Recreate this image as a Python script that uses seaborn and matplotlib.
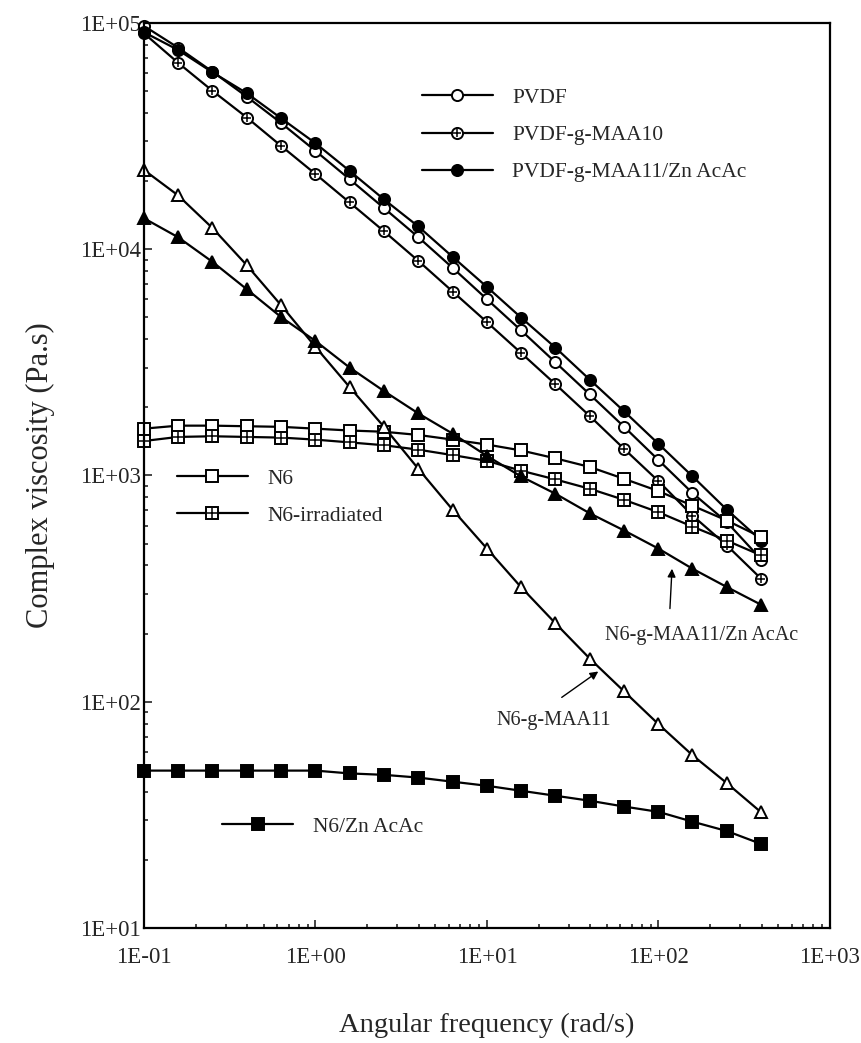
import matplotlib
matplotlib.use("Agg")
import matplotlib.pyplot as plt
import seaborn as sns
from matplotlib.legend_handler import HandlerTuple
from matplotlib.ticker import NullFormatter

# angular frequency (rad/s), 5 points per decade
freq = [0.1, 0.158, 0.251, 0.398, 0.631, 1.0, 1.58, 2.51, 3.98, 6.31,
        10.0, 15.8, 25.1, 39.8, 63.1, 100.0, 158.0, 251.0, 398.0]

# complex viscosity (Pa.s)
pvdf = [97000, 77800, 60900, 47200, 36100, 27200, 20400, 15200, 11300, 8270,
        6010, 4380, 3160, 2280, 1640, 1170, 836, 621, 425]
pvdf_maa10 = [90000, 66700, 50100, 38200, 28600, 21500, 16100, 12000, 8880, 6500,
              4760, 3480, 2530, 1830, 1310, 944, 665, 490, 349]
pvdf_maa11_zn = [91000, 76000, 60500, 48900, 37900, 29400, 22200, 16600, 12600, 9250,
                 6810, 4990, 3670, 2650, 1920, 1380, 991, 705, 515]
n6 = [1610, 1660, 1660, 1650, 1640, 1610, 1580, 1560, 1510, 1440,
      1370, 1290, 1190, 1090, 966, 853, 735, 632, 533]
n6_irr = [1420, 1480, 1490, 1480, 1470, 1440, 1400, 1360, 1300, 1230,
          1160, 1050, 960, 873, 780, 688, 594, 515, 443]
n6_maa11 = [22400, 17300, 12400, 8490, 5650, 3700, 2460, 1640, 1070, 705,
            475, 321, 222, 155, 111, 79.6, 58, 43.6, 32.4]
n6_maa11_zn = [13700, 11300, 8790, 6650, 5010, 3930, 3000, 2360, 1880, 1530,
               1220, 990, 830, 680, 571, 475, 387, 321, 268]
n6_zn = [49.6, 49.6, 49.6, 49.6, 49.6, 49.6, 48.2, 47.5, 46.2, 44.3,
         42.5, 40.4, 38.4, 36.5, 34.4, 32.6, 29.5, 26.8, 23.5]

xticks = [0.1, 1, 10, 100, 1000]
xtick_labels = ["1E-01", "1E+00", "1E+01", "1E+02", "1E+03"]
yticks = [10, 100, 1000, 10000, 100000]
ytick_labels = ["1E+01", "1E+02", "1E+03", "1E+04", "1E+05"]

sns.set_style("ticks")
plt.rcParams["font.family"] = ["Liberation Serif", "DejaVu Serif"]

fig = plt.figure(figsize=(8.61, 10.43), dpi=100)
ax = fig.add_axes([0.1672, 0.1103, 0.7967, 0.8677])


def draw(y, marker, face, ms, cross=False):
    sns.lineplot(x=freq, y=y, ax=ax, color="black", lw=1.6, marker=marker,
                 markersize=ms, markerfacecolor=face, markeredgecolor="black",
                 markeredgewidth=1.4, estimator=None, sort=False, clip_on=False)
    line = ax.lines[-1]
    if cross:
        ax.plot(freq, y, ls="none", marker="+", ms=ms * 0.8, mew=1.1,
                color="black", clip_on=False)
        return (line, ax.lines[-1])
    return line


h_pvdf = draw(pvdf, "o", "white", 8)
h_maa10 = draw(pvdf_maa10, "o", "white", 8, cross=True)
h_maa11 = draw(pvdf_maa11_zn, "o", "black", 8)
h_n6 = draw(n6, "s", "white", 8.5)
h_irr = draw(n6_irr, "s", "white", 8.5, cross=True)
draw(n6_maa11, "^", "white", 8.5)
draw(n6_maa11_zn, "^", "black", 8.5)
h_zn = draw(n6_zn, "s", "black", 8.5)

ax.set_xscale("log")
ax.set_yscale("log")
ax.set_xlim(0.1, 1000)
ax.set_ylim(10, 100000)
ax.set_xticks(xticks)
ax.set_xticklabels(xtick_labels)
ax.set_yticks(yticks)
ax.set_yticklabels(ytick_labels)
ax.xaxis.set_minor_formatter(NullFormatter())
ax.yaxis.set_minor_formatter(NullFormatter())
ax.tick_params(which="both", direction="in", top=False, right=False, width=1.2)
ax.tick_params(which="major", length=6, labelsize=16.5)
ax.tick_params(axis="x", which="major", pad=14)
ax.tick_params(axis="y", which="major", pad=2)
ax.tick_params(which="minor", length=3)
for s in ax.spines.values():
    s.set_visible(True)
    s.set_linewidth(1.6)
    s.set_color("black")

ax.set_xlabel("Angular frequency (rad/s)", fontsize=20.5, labelpad=32)
ax.set_ylabel("Complex viscosity (Pa.s)", fontsize=22, labelpad=18)

hmap = {tuple: HandlerTuple(ndivide=1)}
common = dict(loc="center left", frameon=False, handlelength=3.3, handletextpad=0.9,
              labelspacing=0.8, borderpad=0, borderaxespad=0, fontsize=15.5,
              handler_map=hmap)
leg1 = ax.legend([h_pvdf, h_maa10, h_maa11],
                 ["PVDF", "PVDF-g-MAA10", "PVDF-g-MAA11/Zn AcAc"],
                 bbox_to_anchor=(0.405, 0.876), **common)
ax.add_artist(leg1)
leg2 = ax.legend([h_n6, h_irr], ["N6", "N6-irradiated"],
                 bbox_to_anchor=(0.048, 0.476), **common)
ax.add_artist(leg2)
ax.legend([h_zn], ["N6/Zn AcAc"], bbox_to_anchor=(0.114, 0.112), **common)

arrow = dict(arrowstyle="-|>", color="black", lw=1.0, mutation_scale=12,
             shrinkA=0, shrinkB=0)
ax.annotate("", xy=(120, 387), xytext=(116.7, 258), arrowprops=arrow)
ax.text(178, 196, "N6-g-MAA11/Zn AcAc", ha="center", va="center", fontsize=14.5)
ax.annotate("", xy=(44.6, 136), xytext=(27.3, 104.5), arrowprops=arrow)
ax.text(24.6, 82.4, "N6-g-MAA11", ha="center", va="center", fontsize=14.5)

fig.savefig("out.png", dpi=100)
